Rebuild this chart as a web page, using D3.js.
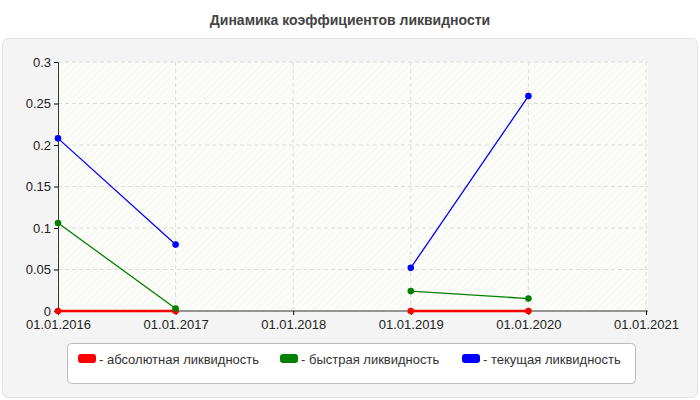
<!DOCTYPE html><html><head><meta charset="utf-8"><script src="https://cdn.jsdelivr.net/npm/d3@7"></script>
<style>body{margin:0;background:#fff}</style></head><body><svg id="c" width="700" height="400"></svg>
<script>
const categories=["01.01.2016","01.01.2017","01.01.2018","01.01.2019","01.01.2020","01.01.2021"];
const absolute=[0,0,null,0,0];
const quick=[0.106,0.003,null,0.024,0.015];
const current=[0.208,0.080,null,0.052,0.259];
const yTicks=[0,0.05,0.1,0.15,0.2,0.25,0.3];
const seriesNames=["- абсолютная ликвидность","- быстрая ликвидность","- текущая ликвидность"];
const colors=["#ff0000","#008000","#0000ff"];
const svg=d3.select("#c");const F="'DejaVu Sans', Arial, sans-serif";const FA="Arial, 'Liberation Sans', sans-serif";
svg.append("text").attr("x",350).attr("y",25).attr("text-anchor","middle").attr("font-family",FA).attr("font-size",14).attr("font-weight","bold").attr("fill","#444").text("Динамика коэффициентов ликвидности");
svg.append("rect").attr("x",2.5).attr("y",38.5).attr("width",695).attr("height",359).attr("rx",6).attr("fill","#f4f4f4").attr("stroke","#e2e2e2");
const x=d3.scalePoint().domain(categories).range([58,646]);
const y=d3.scaleLinear().domain([0,0.3]).range([311,62]);
const defs=svg.append("defs");
const p=defs.append("pattern").attr("id","h").attr("width",5).attr("height",5).attr("patternUnits","userSpaceOnUse").attr("patternTransform","rotate(45)");
p.append("rect").attr("width",5).attr("height",5).attr("fill","#fcfcf8");
p.append("line").attr("x1",0).attr("y1",0).attr("x2",0).attr("y2",5).attr("stroke","#f0f0ec").attr("stroke-width",1);
svg.append("rect").attr("x",58).attr("y",62).attr("width",590).attr("height",249).attr("fill","url(#h)");
const g=svg.append("g");
yTicks.forEach(t=>{if(t>0)g.append("line").attr("x1",58).attr("x2",648).attr("y1",y(t)).attr("y2",y(t)).attr("stroke","#dcdcdc").attr("stroke-dasharray","4,3");});
categories.forEach((c,i)=>{if(i>0)g.append("line").attr("x1",x(c)).attr("x2",x(c)).attr("y1",62).attr("y2",311).attr("stroke","#dcdcdc").attr("stroke-dasharray","4,3");});
svg.append("g").attr("transform","translate(58,0)").call(d3.axisLeft(y).tickValues(yTicks).tickSize(4).tickFormat(d=>String(d))).call(a=>{a.select(".domain").attr("stroke","#333");a.selectAll("text").attr("font-family",FA).attr("font-size",13).attr("fill","#222");});
svg.append("g").attr("transform","translate(0,311)").call(d3.axisBottom(x).tickSize(4).tickSizeOuter(0)).call(a=>{a.select(".domain").attr("stroke","#333").attr("d","M58,0H648");a.selectAll("text").attr("font-family",FA).attr("font-size",13).attr("fill","#222").attr("dy","0.85em");});
[absolute,quick,current].forEach((s,k)=>{
 const pts=s.map((v,i)=>({c:categories[i],v}));
 const line=d3.line().defined(d=>d.v!==null).x(d=>x(d.c)).y(d=>y(d.v));
 svg.append("path").attr("d",line(pts)).attr("fill","none").attr("stroke",colors[k]).attr("stroke-width",k==0?2.5:1.3);
 svg.selectAll(null).data(pts.filter(d=>d.v!==null)).enter().append("circle").attr("cx",d=>x(d.c)).attr("cy",d=>y(d.v)).attr("r",3.3).attr("fill",colors[k]);
});
svg.append("rect").attr("x",67.5).attr("y",343.5).attr("width",568).attr("height",40).attr("rx",4).attr("fill","#fff").attr("stroke","#bbb");
const lx=[78,280,462];
seriesNames.forEach((n,k)=>{svg.append("rect").attr("x",lx[k]).attr("y",354).attr("width",18).attr("height",9).attr("rx",3).attr("fill",colors[k]);
svg.append("text").attr("x",lx[k]+21).attr("y",364).attr("font-family",FA).attr("font-size",13).attr("fill","#333").text(n);});
</script></body></html>
